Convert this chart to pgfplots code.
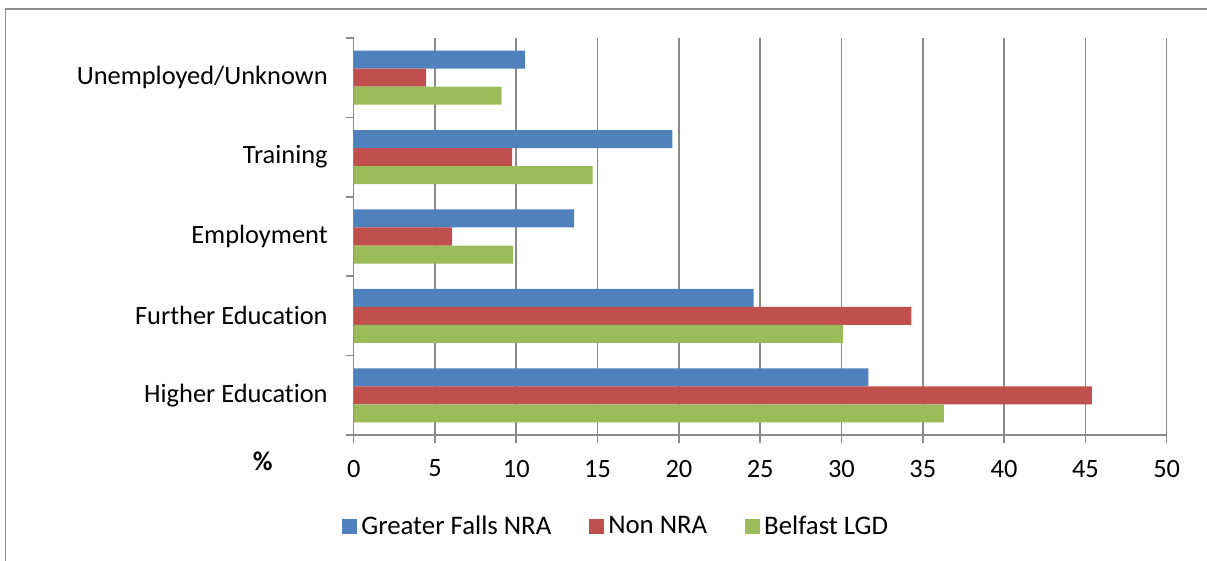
\documentclass[border=0pt]{standalone}
\usepackage{fontspec}
\setmainfont{Carlito}[Ligatures=NoCommon]
\usepackage{pgfplots}
\pgfplotsset{compat=1.18}
\definecolor{xlblue}{HTML}{4F81BD}
\definecolor{xlred}{HTML}{C0504D}
\definecolor{xlgreen}{HTML}{9BBB59}
\definecolor{gridgray}{HTML}{8A8A8A}
\definecolor{framegray}{HTML}{8E8E8E}

\begin{document}
\begin{tikzpicture}
\path[use as bounding box] (0,0) rectangle (603.5pt,280.5pt);
\draw[framegray, line width=0.8pt] (2.65pt,-2pt) -- (2.65pt,276pt) -- (606pt,276pt);
\begin{axis}[
    at={(176.85pt,63pt)}, anchor=south west,
    scale only axis, width=406.5pt, height=198.5pt,
    xbar, bar width=0.227,
    xmin=0, xmax=50, ymin=-0.5, ymax=4.5,
    axis x line*=bottom, axis y line*=left,
    axis line style={gridgray, line width=0.8pt},
    xtick={0,5,...,50},
    ytick={-0.5,0.5,1.5,2.5,3.5,4.5},
    y tick label as interval,
    yticklabels={Higher Education, Further Education, Employment, Training, Unemployed/Unknown},
    tick align=outside, major tick length=4pt,
    tick style={gridgray, line width=0.8pt},
    xmajorgrids, grid style={gridgray, line width=0.8pt},
    /pgf/number format/assume math mode=true,
    ticklabel style={font=\fontsize{13.2pt}{15pt}\selectfont},
    xticklabel style={yshift=-5pt},
    yticklabel style={xshift=-5.5pt},
    legend style={at={(-0.0144,-0.2305)}, anchor=west, draw=none, fill=none,
        xshift=-3pt,
        legend columns=3, font=\fontsize{13.4pt}{15pt}\selectfont,
        /tikz/every even column/.append style={column sep=17pt}},
    legend image code/.code={\fill[#1] (0pt,-3.75pt) rectangle (7.5pt,3.75pt);},
    clip=false,
]
\addplot[fill=xlblue, draw=none, bar shift=0.227] coordinates {(31.65,0) (24.6,1) (13.55,2) (19.6,3) (10.55,4)};
\addplot[fill=xlred, draw=none, bar shift=0] coordinates {(45.4,0) (34.3,1) (6.05,2) (9.75,3) (4.45,4)};
\addplot[fill=xlgreen, draw=none, bar shift=-0.227] coordinates {(36.3,0) (30.1,1) (9.8,2) (14.7,3) (9.1,4)};
\legend{Greater Falls NRA, Non NRA, Belfast LGD}
\node[font=\bfseries\fontsize{13.5pt}{15pt}\selectfont] at (rel axis cs:-0.112,-0.0668) {\%};
\end{axis}
\end{tikzpicture}
\end{document}
